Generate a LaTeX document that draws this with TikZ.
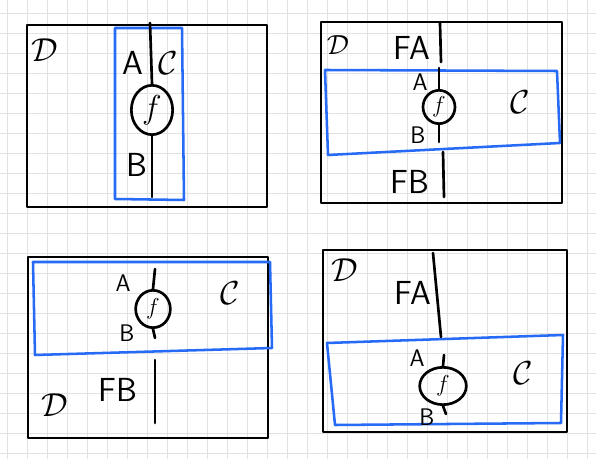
\documentclass[tikz,border=0pt]{standalone}
\usetikzlibrary{shapes.geometric}
\definecolor{bluec}{RGB}{38,106,246}
\definecolor{gridc}{RGB}{226,226,226}
\begin{document}
\begin{tikzpicture}[x=0.75pt,y=-0.75pt,
  gridline/.style={draw=gridc,line width=0.7pt},
  frame/.style={draw=black,line width=2.2pt,line join=round},
  region/.style={draw=bluec,line width=1.9pt,line join=round},
  wire/.style={draw=black,line width=2pt,line cap=round},
  lab/.style={font=\sffamily\fontsize{25}{25}\selectfont,inner sep=0pt},
  slab/.style={font=\sffamily\fontsize{18}{18}\selectfont,inner sep=0pt},
  cat/.style={font=\fontsize{27}{27}\selectfont,inner sep=0pt},
  morph/.style={draw=black,line width=2pt,ellipse,inner sep=0pt,font=\fontsize{24}{24}\selectfont}]
\useasboundingbox (0,0) rectangle (596,459);
\fill[white] (0,0) rectangle (596,459);
\foreach \gx in {7,27,...,587} {\draw[gridline] (\gx,0) -- (\gx,459);}
\foreach \gy in {13,33,...,453} {\draw[gridline] (0,\gy) -- (596,\gy);}

% ---------- panel 1 ----------
\draw[frame] (27,25) rectangle (267,207);
\draw[region] (115,28) -- (182,28) -- (184,200) -- (115,199) -- cycle;
\node[morph,minimum width=31pt,minimum height=37pt] (f1) at (152,110) {$f$};
\coordinate (t1) at (150,23);
\coordinate (e1) at (152,197);
\draw[wire] (t1) -- (f1.north);
\draw[wire] (f1.south) -- (e1);
\node[cat] (d1) at (45,50) {$\mathcal{D}$};
\node[lab] (a1) at (133,63) {A};
\node[cat] (c1) at (168,63) {$\mathcal{C}$};
\node[lab] (b1) at (137,165) {B};

% ---------- panel 2 ----------
\draw[frame] (321,22) rectangle (562,203);
\draw[region] (325,70) -- (557,71) -- (560,143) -- (328,155) -- cycle;
\node[morph,minimum width=24pt,minimum height=25pt,font=\fontsize{19}{19}\selectfont] (f2) at (439,107) {$f$};
\coordinate (t2a) at (440,23);
\coordinate (t2b) at (441,62);
\coordinate (t2c) at (439,68);
\coordinate (e2a) at (439,142);
\coordinate (e2b) at (443,152);
\coordinate (e2c) at (444,197);
\draw[wire] (t2a) -- (t2b);
\draw[wire] (t2c) -- (f2.north);
\draw[wire] (f2.south) -- (e2a);
\draw[wire] (e2b) -- (e2c);
\node[cat,font=\fontsize{22}{22}\selectfont] (d2) at (338,45) {$\mathcal{D}$};
\node[lab] (fa2) at (412,48) {FA};
\node[slab] (a2) at (420,82) {A};
\node[cat] (c2) at (520,102) {$\mathcal{C}$};
\node[slab] (b2) at (418,135) {B};
\node[lab] (fb2) at (410,182) {FB};

% ---------- panel 3 ----------
\draw[frame] (28,257) rectangle (268,438);
\draw[region] (33,262) -- (270,262) -- (272,348) -- (35,355) -- cycle;
\node[morph,minimum width=26pt,minimum height=28pt,font=\fontsize{19}{19}\selectfont] (f3) at (153,309) {$f$};
\coordinate (t3) at (155,269);
\coordinate (e3) at (155,338);
\coordinate (u3) at (155,360);
\coordinate (v3) at (155,423);
\draw[wire] (t3) -- (f3.north);
\draw[wire] (f3.south) -- (e3);
\draw[wire] (u3) -- (v3);
\node[slab] (a3) at (123,283) {A};
\node[slab] (b3) at (127,333) {B};
\node[cat] (c3) at (230,293) {$\mathcal{C}$};
\node[cat] (d3) at (55,405) {$\mathcal{D}$};
\node[lab] (fb3) at (118,390) {FB};

% ---------- panel 4 ----------
\draw[frame] (323,250) rectangle (567,432);
\draw[region] (327,343) -- (563,335) -- (561,423) -- (335,425) -- cycle;
\node[morph,minimum width=35pt,minimum height=28pt,font=\fontsize{19}{19}\selectfont] (f4) at (443,386) {$f$};
\coordinate (t4a) at (433,253);
\coordinate (t4b) at (441,337);
\coordinate (t4c) at (444,355);
\coordinate (e4) at (446,414);
\draw[wire] (t4a) -- (t4b);
\draw[wire] (t4c) -- (f4.north);
\draw[wire] (f4.south) -- (e4);
\node[cat,font=\fontsize{24}{24}\selectfont] (d4) at (345,270) {$\mathcal{D}$};
\node[lab] (fa4) at (413,293) {FA};
\node[slab] (a4) at (417,358) {A};
\node[cat] (c4) at (523,373) {$\mathcal{C}$};
\node[slab] (b4) at (427,417) {B};
\end{tikzpicture}
\end{document}
